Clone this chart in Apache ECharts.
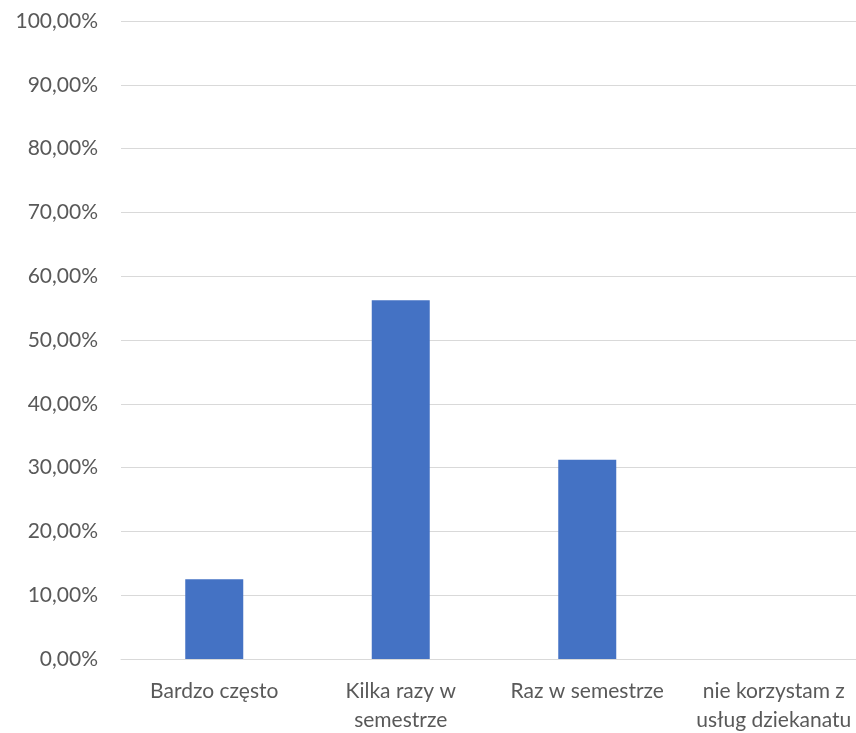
<!DOCTYPE html>
<html><head><meta charset="utf-8">
<script src="https://cdn.jsdelivr.net/npm/echarts@6/dist/echarts.min.js"></script>
<style>html,body{margin:0;padding:0;background:#fff;overflow:hidden;width:856px;height:733px}#c{width:867px;height:733px}</style>
</head><body><div id="c"></div>
<script>
const categories = ["Bardzo często", "Kilka razy w\nsemestrze", "Raz w semestrze", "nie korzystam z\nusług dziekanatu"];
const values = [12.5, 56.25, 31.25, 0];
const yMin = 0, yMax = 100, yStep = 10;

const chart = echarts.init(document.getElementById('c'));
chart.setOption({
  animation: false,
  textStyle: { fontFamily: 'Lato' },
  grid: { left: 121, right: 0, top: 21, bottom: 74, containLabel: false, outerBoundsMode: 'none' },
  xAxis: {
    type: 'category', data: categories,
    axisLine: { show: true, lineStyle: { color: '#d9d9d9', width: 1 } },
    axisTick: { show: false },
    axisLabel: { color: '#595959', fontSize: 21, fontFamily: 'Lato', margin: 18, lineHeight: 29, interval: 0 }
  },
  yAxis: {
    type: 'value', min: yMin, max: yMax, interval: yStep,
    axisLine: { show: false }, axisTick: { show: false },
    splitLine: { lineStyle: { color: '#d9d9d9', width: 1 } },
    axisLabel: { color: '#595959', fontSize: 21, fontFamily: 'Lato', margin: 23,
      formatter: v => v.toFixed(2).replace('.', ',') + '%' }
  },
  series: [{
    type: 'bar', data: values, barWidth: 58,
    itemStyle: { color: '#4472c4' }
  }]
});
</script></body></html>
